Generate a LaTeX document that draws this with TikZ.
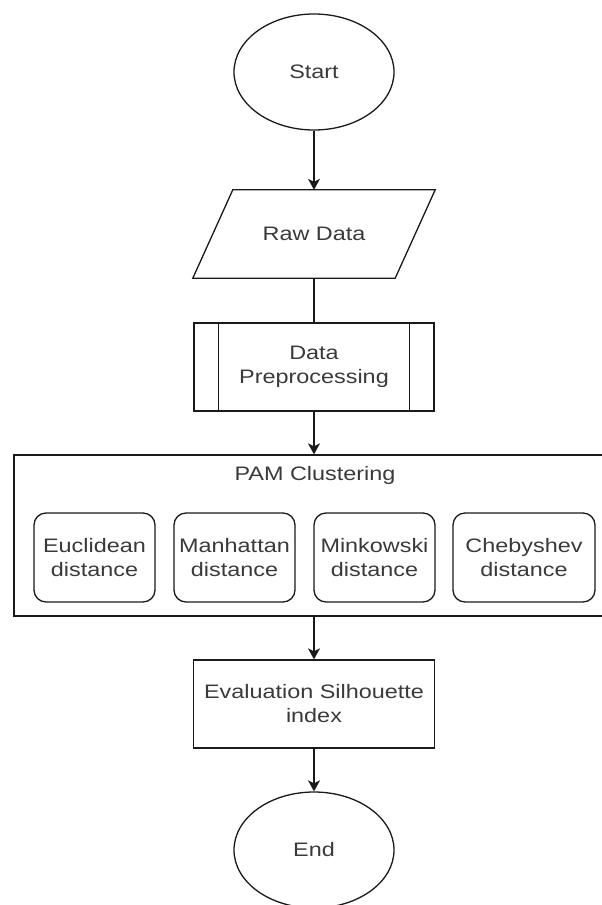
\documentclass[tikz,border=0pt]{standalone}
\usepackage{fontspec}
\setmainfont[FakeStretch=1.2]{Liberation Sans}
\usetikzlibrary{arrows.meta,shapes.geometric}
\definecolor{txt}{HTML}{3A3A3A}
\definecolor{ln}{HTML}{1A1A1A}
\begin{document}
\begin{tikzpicture}[x=1pt,y=-1pt,
  every node/.style={text=txt, font=\fontsize{19.5}{24}\selectfont, align=center},
  shapeline/.style={draw=ln, line width=1.3pt},
  flow/.style={draw=ln, line width=1.3pt, -{Stealth[length=11pt,width=12pt,inset=3pt]}},
  plain/.style={draw=ln, line width=1.3pt},
  term/.style={ellipse, shapeline, minimum width=160pt, minimum height=116pt, inner sep=0pt},
  procbox/.style={rectangle, shapeline, minimum width=240pt, minimum height=88pt, inner sep=0pt},
  distbox/.style={rectangle, rounded corners=12pt, shapeline, minimum height=89pt, inner sep=0pt},
]
\clip (0,0) rectangle (602,905);
\fill[white] (0,0) rectangle (602,905);
% terminals and steps
\node[term] (start) at (314,72) {Start};
\node[minimum width=202pt, minimum height=88pt, inner sep=0pt] (raw) at (314,234) {Raw Data};
\draw[shapeline] ([xshift=20pt]raw.north west) -- ([xshift=20pt]raw.north east)
  -- ([xshift=-20pt]raw.south east) -- ([xshift=-20pt]raw.south west) -- cycle;
\node[procbox] (pre) at (314,367) {Data\\Preprocessing};
\draw[shapeline] ([xshift=25pt]pre.north west) -- ([xshift=25pt]pre.south west);
\draw[shapeline] ([xshift=-25pt]pre.north east) -- ([xshift=-25pt]pre.south east);
% container
\node[rectangle, shapeline, minimum width=602pt, minimum height=161pt, inner sep=0pt] (pam) at (315,535.5) {};
\node (pamlabel) at (315,475) {PAM Clustering};
\node[distbox, minimum width=121pt] (euc) at (94.5,557.5) {Euclidean\\distance};
\node[distbox, minimum width=121pt] (man) at (234.5,557.5) {Manhattan\\distance};
\node[distbox, minimum width=121pt] (min) at (374.5,557.5) {Minkowski\\distance};
\node[distbox, minimum width=142pt] (che) at (524,557.5) {Chebyshev\\distance};
\node[procbox, minimum width=241pt] (eval) at (314,704) {Evaluation Silhouette\\index};
\node[term] (end) at (314,850) {End};
% connectors
\draw[flow] (start.south) -- (raw.north);
\draw[plain] (raw.south) -- (pre.north);
\draw[flow] (pre.south) -- (pre.south |- pam.north);
\draw[flow] (eval.north |- pam.south) -- (eval.north);
\draw[flow] (eval.south) -- (end.north);
\end{tikzpicture}
\end{document}
